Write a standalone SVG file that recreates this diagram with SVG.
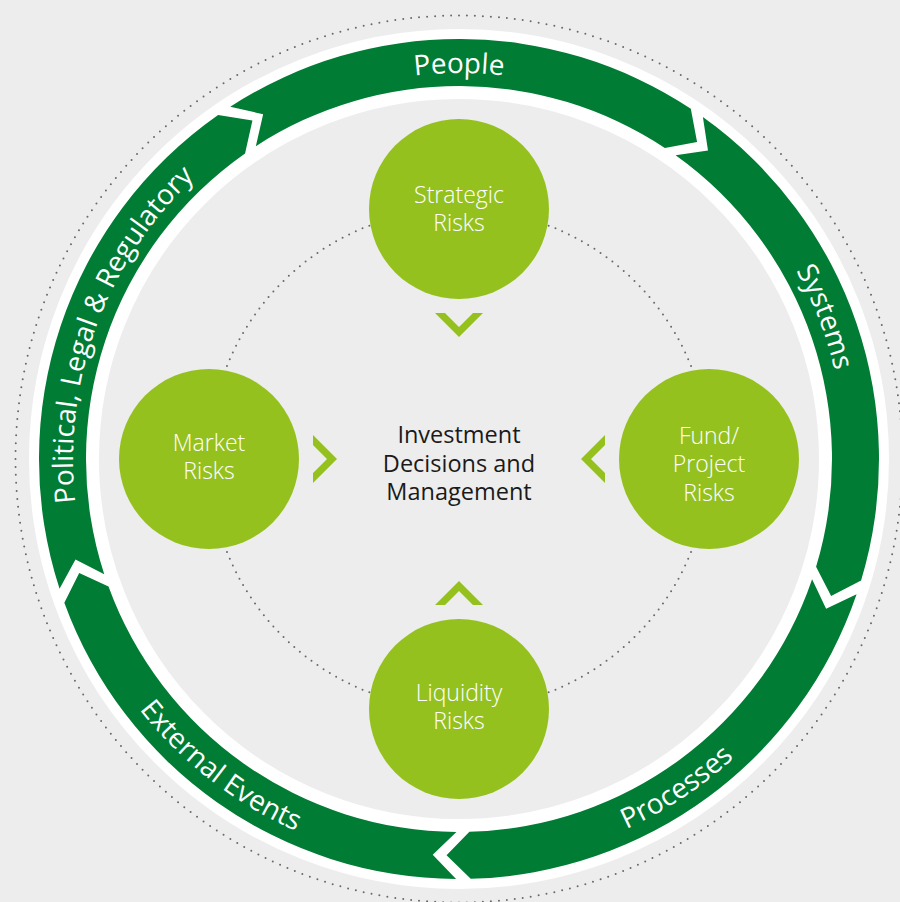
<svg xmlns="http://www.w3.org/2000/svg" xmlns:xlink="http://www.w3.org/1999/xlink" width="900" height="902" viewBox="0 0 900 902">
  <style>
    .bg { fill: #ededed; }
    .dots { fill: none; stroke: #6a6a6a; stroke-width: 2; stroke-linecap: round; stroke-dasharray: 0 1; }
    .halo { fill: none; stroke: #ffffff; stroke-width: 70; }
    .band { fill: #007c34; }
    .band-label { font-family: "Open Sans", "Noto Sans", sans-serif; font-size: 28px; fill: #ffffff; }
    .risk circle { fill: #95c11f; }
    .risk text { font-family: "Open Sans", "Noto Sans", sans-serif; font-weight: 300; font-size: 23px; fill: #ffffff; text-anchor: middle; }
    .hub text { font-family: "Open Sans", "Noto Sans", sans-serif; font-size: 23.5px; fill: #1a1a1a; text-anchor: middle; }
    .chev { fill: #95c11f; }
  </style>
  <defs>
    <!-- clockwise baseline circle (letters face outward), starts at the bottom -->
    <path id="cw" d="M 459 845 A 386 386 0 1 1 459 73 A 386 386 0 1 1 459 845"/>
    <!-- counter-clockwise baseline circle (letters face inward), starts at the top -->
    <path id="ccw" d="M 459 53 A 406 406 0 1 0 459 865 A 406 406 0 1 0 459 53"/>
  </defs>

  <rect class="bg" x="0" y="0" width="900" height="902"/>

  <!-- outer dotted orbit -->
  <circle class="dots" cx="459" cy="459" r="443.5" pathLength="348"/>
  <!-- white carrier ring under the green bands -->
  <circle class="halo" cx="459" cy="459" r="395"/>
  <!-- inner dotted orbit through the risk circles -->
  <circle class="dots" cx="459" cy="459" r="250" pathLength="214"/>

  <!-- outer band: five arrow segments running clockwise -->
  <g id="band-people">
    <path class="band" d="M 230.25 106.76 A 420 420 0 0 1 690.81 108.77 L 697.07 141.93 L 664.87 147.96 A 373 373 0 0 0 255.85 146.18 L 263.15 114.25 Z"/>
    <text class="band-label"><textPath href="#cw" xlink:href="#cw" startOffset="50%" text-anchor="middle">People</textPath></text>
  </g>
  <g id="band-systems">
    <path class="band" d="M 702.89 117.07 A 420 420 0 0 1 861.07 580.39 L 831.11 595.91 L 816.08 566.81 A 373 373 0 0 0 675.60 155.33 L 707.99 150.43 Z"/>
    <text class="band-label"><textPath href="#cw" xlink:href="#cw" startOffset="69.1%" text-anchor="middle">Systems</textPath></text>
  </g>
  <g id="band-processes">
    <path class="band" d="M 856.59 594.35 A 420 420 0 0 1 470.73 878.84 L 446.55 855.31 L 469.41 831.85 A 373 373 0 0 0 812.10 579.21 L 826.11 608.81 Z"/>
    <text class="band-label"><textPath href="#ccw" xlink:href="#ccw" startOffset="59.3%" text-anchor="middle">Processes</textPath></text>
  </g>
  <g id="band-external">
    <path class="band" d="M 456.07 878.99 A 420 420 0 0 1 64.33 602.65 L 79.22 572.94 L 108.50 586.57 A 373 373 0 0 0 456.40 831.99 L 432.72 854.63 Z"/>
    <text class="band-label"><textPath href="#ccw" xlink:href="#ccw" startOffset="39.5%" text-anchor="middle">External Events</textPath></text>
  </g>
  <g id="band-political">
    <path class="band" d="M 59.55 588.79 A 420 420 0 0 1 218.10 114.96 L 252.42 120.57 L 245.05 153.46 A 373 373 0 0 0 104.25 574.26 L 75.48 559.62 Z"/>
    <text class="band-label"><textPath href="#cw" xlink:href="#cw" startOffset="30.6%" text-anchor="middle">Political, Legal &amp; Regulatory</textPath></text>
  </g>

  <!-- chevrons pointing from each risk towards the centre -->
  <g id="connectors">
    <polygon class="chev" points="435,313 445,313 459,327 473,313 483,313 459,337"/>
    <polygon class="chev" points="435,605 445,605 459,591 473,605 483,605 459,581"/>
    <polygon class="chev" points="313,435 313,445 327,459 313,473 313,483 337,459"/>
    <polygon class="chev" points="605,435 605,445 591,459 605,473 605,483 581,459"/>
  </g>

  <g id="risk-strategic" class="risk">
    <circle cx="459" cy="209" r="90"/>
    <text x="459" y="203">Strategic</text>
    <text x="459" y="231">Risks</text>
  </g>
  <g id="risk-fund" class="risk">
    <circle cx="709" cy="459" r="90"/>
    <text x="709" y="444">Fund/</text>
    <text x="709" y="472">Project</text>
    <text x="709" y="501">Risks</text>
  </g>
  <g id="risk-liquidity" class="risk">
    <circle cx="459" cy="709" r="90"/>
    <text x="459" y="701">Liquidity</text>
    <text x="459" y="729">Risks</text>
  </g>
  <g id="risk-market" class="risk">
    <circle cx="209" cy="459" r="90"/>
    <text x="209" y="451">Market</text>
    <text x="209" y="479">Risks</text>
  </g>

  <g id="hub" class="hub">
    <text x="459" y="443">Investment</text>
    <text x="459" y="472">Decisions and</text>
    <text x="459" y="500">Management</text>
  </g>
</svg>
